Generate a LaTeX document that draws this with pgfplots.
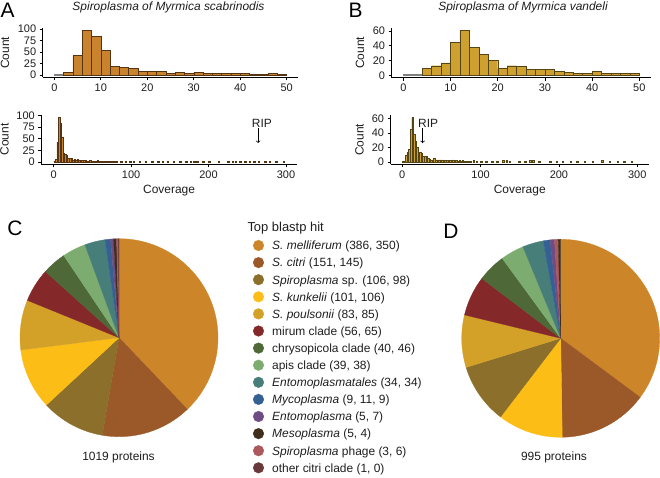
\documentclass[border=0pt]{standalone}
\usepackage{pgfplots}
\pgfplotsset{compat=1.18}
\usepackage{fontspec}
\setmainfont{Liberation Sans}

\definecolor{cMell}{RGB}{204,134,41}
\definecolor{cCitri}{RGB}{155,88,40}
\definecolor{cSp}{RGB}{139,111,42}
\definecolor{cKunk}{RGB}{252,190,22}
\definecolor{cPoul}{RGB}{212,161,40}
\definecolor{cMirum}{RGB}{133,40,42}
\definecolor{cChryso}{RGB}{79,104,56}
\definecolor{cApis}{RGB}{125,172,112}
\definecolor{cEntomat}{RGB}{72,126,121}
\definecolor{cMyco}{RGB}{52,96,148}
\definecolor{cEntomo}{RGB}{111,76,131}
\definecolor{cMeso}{RGB}{64,46,26}
\definecolor{cPhage}{RGB}{172,88,92}
\definecolor{cOther}{RGB}{104,56,58}
\definecolor{histA}{RGB}{201,131,44}
\definecolor{histB}{RGB}{206,160,47}
\definecolor{edgeA}{RGB}{85,52,20}
\definecolor{edgeB}{RGB}{85,68,20}
\definecolor{grayBar}{RGB}{215,215,215}
\definecolor{txt}{RGB}{30,30,30}

\tikzset{legtxt/.style={anchor=base west, inner sep=0pt, font=\fontsize{12}{14}\selectfont, text=txt}}

\pgfplotsset{
  histax/.style={
    scale only axis,
    anchor=south west,
    axis x line*=bottom, axis y line*=left,
    axis line style={line width=0.7bp,-,black},
    tick align=outside,
    major tick length=3bp,
    tick style={line width=0.7bp,black},
    ticklabel style={font=\fontsize{11}{13}\selectfont, text=txt},
    /pgf/number format/assume math mode=true,
    ylabel={Count},
    label style={font=\fontsize{12}{14}\selectfont, text=txt},
    clip=false,
  },
  bars/.style={ybar, bar width=2, line width=0.4bp},
}

\newcommand\drawpie[2]{%
  \pgfplotsextra{%
    \gdef\pcum{0}%
    \foreach \v/\c in {#2}{%
      \pgfmathsetmacro\pa{90-360*(\pcum/#1)}%
      \pgfmathsetmacro\pb{90-360*((\pcum+\v)/#1)}%
      \filldraw[fill=\c, draw=\c, line width=0.3bp] (axis cs:0,0) -- ++(\pa:99bp) arc[start angle=\pa, end angle=\pb, radius=99bp] -- cycle;%
      \pgfmathsetmacro\pn{\pcum+\v}%
      \global\let\pcum\pn
    }%
  }%
}

\pgfplotstableread{
x y
3 6
5 43
7 97
9 84
11 54
13 19
15 17
17 15
19 8
21 8
23 8
25 4
27 6
29 4
31 6
33 4
35 4
37 4
39 3
41 3
43 2
45 2
47 3
49 2
}\histAtop

\pgfplotstableread{
x y
1 2
3 6
5 43
7 97
9 84
11 54
13 19
15 17
17 15
19 8
21 8
23 8
25 4
27 6
29 4
31 6
33 4
35 4
37 4
39 3
41 3
43 2
45 2
47 3
49 2
51 2
53 2
55 1
57 3
59 2
61 1
65 1
69 2
73 1
77 1
81 1
87 1
93 1
99 1
103 1
111 1
119 1
127 1
135 1
141 1
147 1
155 1
163 1
171 1
177 1
181 2
183 2
185 1
193 1
201 1
213 1
225 1
231 1
235 1
241 1
247 1
253 1
259 1
265 1
273 1
279 2
287 1
297 1
}\histAbot

\pgfplotstableread{
x y
5 9
7 13
9 17
11 45
13 61
15 38
17 28
19 20
21 9
23 13
25 12
27 8
29 8
31 8
33 5
35 4
37 3
39 3
41 5
43 3
45 3
47 3
49 3
}\histBtop

\pgfplotstableread{
x y
1 1
3 1
5 9
7 13
9 17
11 45
13 61
15 38
17 28
19 20
21 9
23 13
25 12
27 8
29 8
31 8
33 5
35 4
37 3
39 3
41 5
43 3
45 3
47 3
49 3
51 3
53 2
55 3
57 2
59 2
61 2
63 1
65 3
67 2
69 2
71 1
73 2
75 1
77 2
79 1
83 1
87 1
91 2
95 1
101 1
107 1
115 1
121 1
129 2
133 2
137 1
149 1
157 1
163 2
167 2
175 1
189 1
197 1
205 1
215 1
223 1
233 1
243 1
255 2
265 1
275 1
283 1
293 1
}\histBbot

\begin{document}
\begin{tikzpicture}
\useasboundingbox (0,0) rectangle (660bp,478bp);

% ---------- A top ----------
\begin{axis}[histax, at={(42.7bp,400.7bp)}, width=255.6bp, height=49.1bp,
  xmin=-2.5, xmax=52.5, ymin=-4.85, ymax=101.85,
  xtick={0,10,20,30,40,50}, ytick={0,25,50,75,100},
  ylabel style={at={(axis description cs:-0.1475,0.5)}, anchor=center}]
\addplot[bars, fill=grayBar, draw=gray] coordinates {(1,2)};
\addplot[bars, fill=histA, draw=edgeA] table[x=x,y=y] {\histAtop};
\end{axis}

% ---------- A bottom ----------
\begin{axis}[histax, at={(41.3bp,313.7bp)}, width=255.5bp, height=49.4bp,
  xmin=-16, xmax=314, ymin=-5, ymax=101.7,
  xtick={0,100,200,300}, ytick={0,25,50,75,100},
  xlabel={Coverage},
  xlabel style={at={(axis description cs:0.5,-0.54)}, anchor=center},
  ylabel style={at={(axis description cs:-0.144,0.5)}, anchor=center}]
\addplot[bars, fill=histA, draw=edgeA, line width=0.3bp] table[x=x,y=y] {\histAbot};
\draw[->, line width=0.7bp] (axis cs:264,73) -- (axis cs:264,41);
\node[font=\fontsize{12}{14}\selectfont, text=txt] at (axis cs:269,84) {RIP};
\end{axis}

% ---------- B top ----------
\begin{axis}[histax, at={(391.5bp,400.3bp)}, width=259.6bp, height=49.6bp,
  xmin=-2.5, xmax=52.5, ymin=-3.2, ymax=64.05,
  xtick={0,10,20,30,40,50}, ytick={0,20,40,60},
  ylabel style={at={(axis description cs:-0.121,0.5)}, anchor=center}]
\addplot[bars, fill=grayBar, draw=gray] coordinates {(1,1) (3,1)};
\addplot[bars, fill=histB, draw=edgeB] table[x=x,y=y] {\histBtop};
\end{axis}

% ---------- B bottom ----------
\begin{axis}[histax, at={(390.5bp,313.8bp)}, width=258.5bp, height=48.8bp,
  xmin=-15, xmax=315, ymin=-3.05, ymax=64.05,
  xtick={0,100,200,300}, ytick={0,20,40,60},
  xlabel={Coverage},
  xlabel style={at={(axis description cs:0.5,-0.549)}, anchor=center},
  ylabel style={at={(axis description cs:-0.12,0.5)}, anchor=center}]
\addplot[bars, fill=histB, draw=edgeB, line width=0.3bp] table[x=x,y=y] {\histBbot};
\draw[->, line width=0.7bp] (axis cs:26,46.7) -- (axis cs:26,26);
\node[font=\fontsize{12}{14}\selectfont, text=txt] at (axis cs:33,53.6) {RIP};
\end{axis}

% ---------- C pie ----------
\begin{axis}[at={(20bp,41.3bp)}, anchor=south west, scale only axis,
  width=198bp, height=198bp, xmin=-1, xmax=1, ymin=-1, ymax=1, hide axis, clip=false]
\drawpie{1019}{386/cMell,151/cCitri,106/cSp,101/cKunk,83/cPoul,56/cMirum,40/cChryso,39/cApis,34/cEntomat,9/cMyco,5/cEntomo,5/cMeso,3/cPhage,1/cOther}
\end{axis}

% ---------- D pie ----------
\begin{axis}[at={(461.7bp,40.7bp)}, anchor=south west, scale only axis,
  width=198bp, height=198bp, xmin=-1, xmax=1, ymin=-1, ymax=1, hide axis, clip=false]
\drawpie{995}{350/cMell,145/cCitri,106/cKunk,98/cSp,85/cPoul,65/cMirum,46/cChryso,38/cApis,34/cEntomat,11/cMyco,7/cEntomo,6/cPhage,4/cMeso}
\end{axis}

% ---------- overlay: labels, titles, legend ----------
\begin{axis}[at={(0bp,0bp)}, anchor=south west, scale only axis,
  width=660bp, height=478bp, xmin=0, xmax=660, ymin=0, ymax=478,
  y dir=reverse, hide axis, clip=false]
\node[font=\fontsize{21}{24}\selectfont] at (axis cs:7.5,10.5) {A};
\node[font=\fontsize{21}{24}\selectfont] at (axis cs:355.5,10.5) {B};
\node[font=\fontsize{21}{24}\selectfont] at (axis cs:15,228) {C};
\node[font=\fontsize{21}{24}\selectfont] at (axis cs:451,231) {D};
\node[anchor=base, font=\fontsize{12}{14}\selectfont\itshape, text=txt] at (axis cs:168.5,10.7) {Spiroplasma of Myrmica scabrinodis};
\node[anchor=base, font=\fontsize{12}{14}\selectfont\itshape, text=txt] at (axis cs:523,10.3) {Spiroplasma of Myrmica vandeli};
\node[font=\fontsize{12}{14}\selectfont, text=txt] at (axis cs:118.5,457) {1019 proteins};
\node[font=\fontsize{12}{14}\selectfont, text=txt] at (axis cs:554,457) {995 proteins};
\node[legtxt, font=\fontsize{13}{15}\selectfont] at (axis cs:247.3,231) {Top blastp hit};
% legend markers
\addplot[only marks, mark=*, mark size=5.3bp, color=cMell] coordinates {(258.5,245.5)};
\addplot[only marks, mark=*, mark size=5.3bp, color=cCitri] coordinates {(258.5,262.6)};
\addplot[only marks, mark=*, mark size=5.3bp, color=cSp] coordinates {(258.5,279.7)};
\addplot[only marks, mark=*, mark size=5.3bp, color=cKunk] coordinates {(258.5,296.8)};
\addplot[only marks, mark=*, mark size=5.3bp, color=cPoul] coordinates {(258.5,313.9)};
\addplot[only marks, mark=*, mark size=5.3bp, color=cMirum] coordinates {(258.5,331.0)};
\addplot[only marks, mark=*, mark size=5.3bp, color=cChryso] coordinates {(258.5,348.1)};
\addplot[only marks, mark=*, mark size=5.3bp, color=cApis] coordinates {(258.5,365.2)};
\addplot[only marks, mark=*, mark size=5.3bp, color=cEntomat] coordinates {(258.5,382.3)};
\addplot[only marks, mark=*, mark size=5.3bp, color=cMyco] coordinates {(258.5,399.4)};
\addplot[only marks, mark=*, mark size=5.3bp, color=cEntomo] coordinates {(258.5,416.5)};
\addplot[only marks, mark=*, mark size=5.3bp, color=cMeso] coordinates {(258.5,433.6)};
\addplot[only marks, mark=*, mark size=5.3bp, color=cPhage] coordinates {(258.5,450.7)};
\addplot[only marks, mark=*, mark size=5.3bp, color=cOther] coordinates {(258.5,467.8)};
% legend texts
\node[legtxt] at (axis cs:272,249.8) {\textit{S. melliferum} (386, 350)};
\node[legtxt] at (axis cs:272,266.9) {\textit{S. citri} (151, 145)};
\node[legtxt] at (axis cs:272,284.0) {\textit{Spiroplasma} sp. (106, 98)};
\node[legtxt] at (axis cs:272,301.1) {\textit{S. kunkelii} (101, 106)};
\node[legtxt] at (axis cs:272,318.2) {\textit{S. poulsonii} (83, 85)};
\node[legtxt] at (axis cs:272,335.3) {mirum clade (56, 65)};
\node[legtxt] at (axis cs:272,352.4) {chrysopicola clade (40, 46)};
\node[legtxt] at (axis cs:272,369.5) {apis clade (39, 38)};
\node[legtxt] at (axis cs:272,386.6) {\textit{Entomoplasmatales} (34, 34)};
\node[legtxt] at (axis cs:272,403.7) {\textit{Mycoplasma} (9, 11, 9)};
\node[legtxt] at (axis cs:272,420.8) {\textit{Entomoplasma} (5, 7)};
\node[legtxt] at (axis cs:272,437.9) {\textit{Mesoplasma} (5, 4)};
\node[legtxt] at (axis cs:272,455.0) {\textit{Spiroplasma} phage (3, 6)};
\node[legtxt] at (axis cs:272,472.1) {other citri clade (1, 0)};
\end{axis}
\end{tikzpicture}
\end{document}
